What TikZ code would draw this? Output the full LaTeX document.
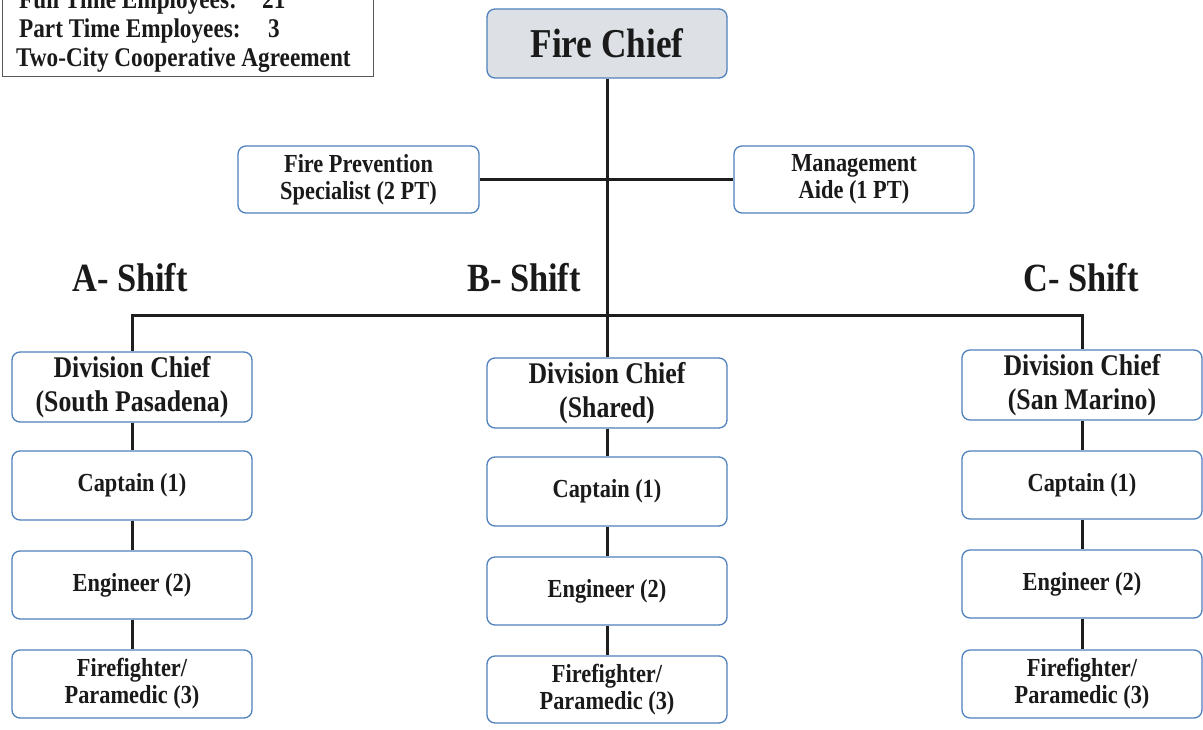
\documentclass[tikz,border=0pt]{standalone}
\usepackage{fontspec}
\setmainfont{Liberation Serif}[FakeStretch=0.86]
\definecolor{boxblue}{HTML}{4F81BD}
\definecolor{chieffill}{HTML}{DDE1E6}
\definecolor{lnk}{HTML}{1E1E1E}
\definecolor{txt}{HTML}{1A1A1A}
\begin{document}
\begin{tikzpicture}[x=1pt,y=-1pt,
  box/.style={draw=boxblue, line width=1.3pt, rounded corners=8pt, fill=white,
    minimum width=240pt, inner sep=0pt, align=center, text=txt,
    font=\bfseries\fontsize{26}{27}\selectfont},
  dcbox/.style={box, font=\bfseries\fontsize{30}{34}\selectfont},
  link/.style={draw=lnk, line width=3pt},
  shiftlabel/.style={text=txt, font=\bfseries\fontsize{40}{44}\selectfont, inner sep=0pt},
  info/.style={text=txt, font=\bfseries\fontsize{27}{29}\selectfont, inner sep=0pt, anchor=base west}]
\useasboundingbox (0,0) rectangle (1203,730);
\fill[white] (0,0) rectangle (1203,730);

% info box
\node (infobox) [draw=gray!70!black, line width=1.3pt, minimum width=371pt, minimum height=100pt, inner sep=0pt, anchor=south west] at (2,77) {};
\node (l1) [info] at (19,9) {Full Time Employees:};
\node (n1) [info] at (262,9) {21};
\node (l2) [info] at (19,38) {Part Time Employees:};
\node (n2) [info] at (268,38) {3};
\node (l3) [info] at (16,67) {Two-City Cooperative Agreement};

% top
\node (chief) [box, fill=chieffill, minimum height=69pt, font=\bfseries\fontsize{41}{44}\selectfont] at (607,43.5) {Fire Chief};
\node (fp) [box, minimum width=241pt, minimum height=67pt] at (358.5,179.5) {Fire Prevention\\Specialist (2 PT)};
\node (ma) [box, minimum height=67pt] at (854,179.5) {Management\\Aide (1 PT)};

% shift labels
\node (sa) [shiftlabel] at (130,278) {A- Shift};
\node (sb) [shiftlabel] at (524,278) {B- Shift};
\node (sc) [shiftlabel] at (1081,278) {C- Shift};

% column A
\node (adc) [dcbox, minimum height=70pt] at (132,387) {Division Chief\\(South Pasadena)};
\node (acap) [box, minimum height=69pt] at (132,485.5) {Captain (1)};
\node (aeng) [box, minimum height=68pt] at (132,585) {Engineer (2)};
\node (aff) [box, minimum height=68pt] at (132,684) {Firefighter/\\Paramedic (3)};

% column B
\node (bdc) [dcbox, minimum height=70pt] at (607,393) {Division Chief\\(Shared)};
\node (bcap) [box, minimum height=69pt] at (607,491.5) {Captain (1)};
\node (beng) [box, minimum height=68pt] at (607,591) {Engineer (2)};
\node (bff) [box, minimum height=67pt] at (607,689.5) {Firefighter/\\Paramedic (3)};

% column C
\node (cdc) [dcbox, minimum height=70pt] at (1082,385) {Division Chief\\(San Marino)};
\node (ccap) [box, minimum height=68pt] at (1082,485) {Captain (1)};
\node (ceng) [box, minimum height=68pt] at (1082,584) {Engineer (2)};
\node (cff) [box, minimum height=68pt] at (1082,684) {Firefighter/\\Paramedic (3)};

% connectors
\coordinate (busy) at (0,316);
\draw[link] (chief.south) -- (bdc.north);
\draw[link] (fp.east) -- (ma.west);
\draw[link] (adc.north) -- (adc.north |- busy) -- (cdc.north |- busy) -- (cdc.north);
\draw[link] (adc) -- (acap);
\draw[link] (acap) -- (aeng);
\draw[link] (aeng) -- (aff);
\draw[link] (bdc) -- (bcap);
\draw[link] (bcap) -- (beng);
\draw[link] (beng) -- (bff);
\draw[link] (cdc) -- (ccap);
\draw[link] (ccap) -- (ceng);
\draw[link] (ceng) -- (cff);
\end{tikzpicture}
\end{document}
